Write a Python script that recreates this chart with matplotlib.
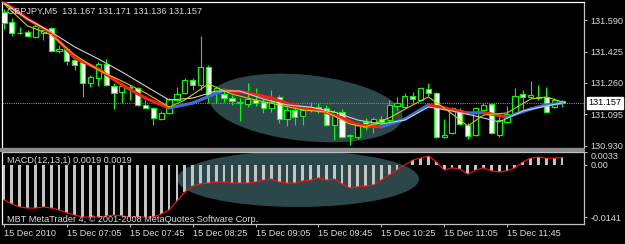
"""
plot.py

MT4-style GBPJPY M5 screenshot: candles + three moving averages on top,
MACD(12,13,1) histogram below, with the two highlight ellipses.
"""

import matplotlib
matplotlib.use("Agg")
import matplotlib.pyplot as plt
import matplotlib.transforms as mtransforms
from matplotlib.collections import LineCollection
from matplotlib.patches import Ellipse, Rectangle


# ── Data ──────────────────────────────────────────────────────────────────────

opens = [
    131.632, 131.580, 131.522, 131.527, 131.501, 131.522, 131.548, 131.428,
    131.438, 131.380, 131.370, 131.260, 131.286, 131.360, 131.244, 131.213,
    131.234, 131.234, 131.145, 131.129, 131.071, 131.103, 131.171, 131.208,
    131.276, 131.250, 131.344, 131.208, 131.202, 131.181, 131.161, 131.150,
    131.171, 131.161, 131.129, 131.187, 131.071, 131.119, 131.087, 131.134,
    131.134, 131.129, 131.040, 131.108, 130.982, 130.977, 131.056, 131.045,
    131.071, 131.066, 131.140, 131.134, 131.192, 131.171, 131.229, 131.208,
    130.977, 130.998, 131.119, 131.040, 130.988, 131.119, 131.150, 130.988,
    131.056, 131.103, 131.202, 131.187, 131.187, 131.187, 131.134, 131.167,
]
highs = [
    131.648, 131.601, 131.553, 131.538, 131.574, 131.553, 131.553, 131.459,
    131.449, 131.391, 131.375, 131.302, 131.370, 131.386, 131.260, 131.260,
    131.250, 131.239, 131.171, 131.134, 131.113, 131.181, 131.239, 131.286,
    131.286, 131.506, 131.354, 131.244, 131.218, 131.197, 131.181, 131.260,
    131.234, 131.176, 131.223, 131.197, 131.134, 131.134, 131.140, 131.161,
    131.155, 131.145, 131.119, 131.124, 130.993, 131.056, 131.077, 131.082,
    131.087, 131.171, 131.187, 131.208, 131.213, 131.239, 131.260, 131.213,
    131.071, 131.134, 131.129, 131.050, 131.134, 131.155, 131.155, 131.103,
    131.140, 131.234, 131.223, 131.270, 131.250, 131.239, 131.181, 131.171,
]
lows = [
    131.543, 131.506, 131.517, 131.501, 131.496, 131.485, 131.422, 131.417,
    131.354, 131.328, 131.187, 131.239, 131.244, 131.244, 131.124, 131.155,
    131.171, 131.140, 131.129, 131.040, 131.066, 131.098, 131.166, 131.202,
    131.223, 131.223, 131.155, 131.155, 131.161, 131.145, 131.061, 131.134,
    131.140, 131.103, 131.108, 131.050, 131.035, 131.040, 131.040, 131.108,
    131.103, 131.035, 130.961, 130.972, 130.935, 130.967, 131.014, 130.998,
    131.045, 131.056, 131.119, 131.129, 131.155, 131.166, 131.192, 130.972,
    130.972, 130.993, 131.040, 130.967, 130.982, 131.108, 130.993, 130.977,
    131.050, 131.098, 131.108, 131.181, 131.171, 131.108, 131.129, 131.136,
]
closes = [
    131.574, 131.522, 131.521, 131.506, 131.559, 131.538, 131.428, 131.438,
    131.375, 131.354, 131.260, 131.291, 131.360, 131.250, 131.208, 131.244,
    131.239, 131.145, 131.129, 131.077, 131.103, 131.176, 131.202, 131.276,
    131.250, 131.344, 131.197, 131.234, 131.181, 131.166, 131.155, 131.176,
    131.155, 131.129, 131.161, 131.071, 131.119, 131.082, 131.119, 131.124,
    131.113, 131.040, 131.108, 130.977, 130.988, 131.040, 131.030, 131.071,
    131.056, 131.145, 131.155, 131.192, 131.176, 131.234, 131.208, 130.977,
    130.988, 131.129, 131.045, 130.982, 131.129, 131.145, 130.998, 131.066,
    131.098, 131.192, 131.187, 131.197, 131.181, 131.108, 131.171, 131.157,
]

# thick colour-changing MA (red falling / blue rising)
ma_thick_idx = [0, 3, 6, 9, 12, 15, 18, 21, 24, 28, 31, 34, 37, 40, 43, 45,
                48, 51, 54, 56, 59, 61, 64, 67, 69, 71]
ma_thick = [131.684, 131.595, 131.522, 131.391, 131.333, 131.250, 131.181,
            131.129, 131.155, 131.223, 131.208, 131.181, 131.140, 131.119,
            131.077, 131.040, 131.030, 131.071, 131.145, 131.129, 131.103,
            131.105, 131.082, 131.124, 131.145, 131.155]

# thin yellow MA
ma_fast_idx = [0, 3, 6, 9, 12, 15, 18, 21, 23, 26, 29, 32, 35, 38, 41, 44,
               46, 49, 52, 54, 56, 59, 61, 64, 67, 69, 71]
ma_fast = [131.674, 131.559, 131.512, 131.407, 131.328, 131.270, 131.208,
           131.134, 131.171, 131.255, 131.202, 131.171, 131.145, 131.119,
           131.108, 131.045, 131.030, 131.077, 131.145, 131.187, 131.129,
           131.035, 131.092, 131.103, 131.176, 131.187, 131.161]

# thin white MA
ma_slow_idx = [0, 3, 6, 9, 12, 15, 18, 21, 24, 27, 30, 33, 36, 39, 42, 45,
               48, 51, 54, 57, 60, 63, 66, 69, 71]
ma_slow = [131.679, 131.595, 131.527, 131.449, 131.386, 131.318, 131.244,
           131.171, 131.181, 131.218, 131.218, 131.176, 131.145, 131.134,
           131.108, 131.066, 131.045, 131.066, 131.134, 131.113, 131.087,
           131.056, 131.113, 131.140, 131.155]

macd = [
    -0.0095, -0.0106, -0.0114, -0.0117, -0.0117, -0.0114, -0.0117, -0.0122,
    -0.0130, -0.0136, -0.0141, -0.0141, -0.0141, -0.0138, -0.0136, -0.0138,
    -0.0141, -0.0141, -0.0141, -0.0141, -0.0133, -0.0122, -0.0098, -0.0074,
    -0.0058, -0.0052, -0.0050, -0.0047, -0.0047, -0.0050, -0.0050, -0.0050,
    -0.0047, -0.0042, -0.0039, -0.0047, -0.0050, -0.0050, -0.0044, -0.0042,
    -0.0036, -0.0042, -0.0039, -0.0052, -0.0063, -0.0060, -0.0058, -0.0055,
    -0.0042, -0.0028, -0.0015, -0.0001, 0.0012, 0.0017, 0.0023, 0.0007,
    -0.0015, -0.0009, -0.0012, -0.0026, -0.0015, -0.0009, -0.0017, -0.0020,
    -0.0017, -0.0009, 0.0007, 0.0017, 0.0020, 0.0017, 0.0017, 0.0019,
]
macd_signal = macd  # SMA(1) of the main line is the line itself

price_ticks = [131.590, 131.425, 131.260, 131.095, 130.930]
last_price = 131.157
macd_ticks = [0.0033, 0.0, -0.0141]
macd_tick_labels = ["0.0033", "0.00", "-0.0141"]

time_tick_idx = [0, 8, 16, 24, 32, 40, 48, 56, 64]
time_labels = ["15 Dec 2010", "15 Dec 07:05", "15 Dec 07:45", "15 Dec 08:25",
               "15 Dec 09:05", "15 Dec 09:45", "15 Dec 10:25", "15 Dec 11:05",
               "15 Dec 11:45"]

header = "GBPJPY,M5  131.167 131.171 131.136 131.157"
macd_header = "MACD(12,13,1) 0.0019 0.0019"
footer = "MBT MetaTrader 4, \u00a9 2001-2008 MetaQuotes Software Corp."


# ── Style ─────────────────────────────────────────────────────────────────────

W, H = 625, 244
TXT = "#dadada"
FRAME = "#c0c0c0"
GREEN = "#00ff00"
TEAL = "#2b4749"
FS = 6.6

plt.rcParams["font.family"] = ["Liberation Sans", "DejaVu Sans"]


def px_axes(fig, left, top, right, bottom):
    return fig.add_axes([left / W, 1 - bottom / H, (right - left) / W, (bottom - top) / H])


def style_axes(ax):
    ax.set_facecolor("black")
    for side in ("right", "bottom", "top"):
        ax.spines[side].set_color(FRAME)
    ax.spines["left"].set_color("white")
    for sp in ax.spines.values():
        sp.set_linewidth(0.9)
    ax.set_xlim(-0.254, 73.79)
    ax.yaxis.tick_right()
    ax.tick_params(axis="y", direction="out", length=2.2, width=0.7, color=FRAME,
                   labelcolor=TXT, labelsize=FS, pad=2.5)


fig = plt.figure(figsize=(W / 100, H / 100), dpi=100, facecolor="black")
pix = mtransforms.Affine2D().scale(1, -1).translate(0, H)  # image px -> display

# ── Main price panel ──────────────────────────────────────────────────────────

ax = px_axes(fig, 2, 2, 584, 148)
style_axes(ax)
ax.spines["top"].set_color("white")
ax.set_ylim(130.9195, 131.6843)
ax.set_xticks([])

ell = Ellipse((306, 108), 194, 66, angle=6, transform=pix, facecolor=TEAL,
              edgecolor="none", zorder=1)
ax.add_patch(ell)

ax.axhline(last_price, color="#8a8a8a", lw=0.8, ls=(0, (1, 1)), zorder=2)

xs = list(range(len(opens)))
ax.vlines(xs, lows, highs, color=GREEN, lw=0.8, zorder=3)
body_lo = [min(o, c) for o, c in zip(opens, closes)]
body_h = [abs(c - o) for o, c in zip(opens, closes)]
body_fc = ["black" if c > o else "white" for o, c in zip(opens, closes)]
ax.bar(xs, body_h, bottom=body_lo, width=0.66, color=body_fc, edgecolor=GREEN,
       linewidth=0.8, zorder=4)

# thick MA, coloured per segment by direction
segs, cols = [], []
for k in range(len(ma_thick) - 1):
    segs.append([(ma_thick_idx[k], ma_thick[k]), (ma_thick_idx[k + 1], ma_thick[k + 1])])
    cols.append("#3d6cd2" if ma_thick[k + 1] > ma_thick[k] else "#ff1c1c")
ax.add_collection(LineCollection(segs, colors=cols, linewidths=2.3,
                                 capstyle="round", zorder=5))
ax.plot(ma_slow_idx, ma_slow, color="#cfcfcf", lw=0.8, zorder=6)
ax.plot(ma_fast_idx, ma_fast, color="#d2c800", lw=0.8, zorder=7)

ax.set_yticks(price_ticks)
ax.set_yticklabels([f"{p:.3f}" for p in price_ticks])
ax.text(1 + 4 / 582, last_price, f"{last_price:.3f}",
        transform=mtransforms.blended_transform_factory(ax.transAxes, ax.transData),
        ha="left", va="center", fontsize=FS, color="black", clip_on=False,
        bbox=dict(boxstyle="square,pad=0.15", fc="white", ec="white"))

# ── MACD panel ────────────────────────────────────────────────────────────────

ax2 = px_axes(fig, 2, 152, 584, 224)
style_axes(ax2)
ax2.set_ylim(-0.01598, 0.00336)

ell2 = Ellipse((298, 179), 242, 56, angle=0, transform=pix, facecolor=TEAL,
               edgecolor="none", zorder=1)
ax2.add_patch(ell2)

ax2.bar(xs, macd, width=0.36, color="#c4c4c4", zorder=3)
ax2.plot(xs, macd_signal, color="#ff1010", lw=0.8, zorder=4)

ax2.set_yticks(macd_ticks)
ax2.set_yticklabels(macd_tick_labels)
ax2.get_yticklabels()[0].set_va("top")

ax2.set_xticks(time_tick_idx)
ax2.set_xticklabels(time_labels)
ax2.tick_params(axis="x", direction="out", length=2.5, width=0.7, color=FRAME,
                labelcolor=TXT, labelsize=FS, pad=1.2)
for lab in ax2.get_xticklabels():
    lab.set_ha("left")

# grey separator band between the panels
fig.patches.append(Rectangle((0, 148), 585, 3.5, transform=pix, facecolor="#8c8c8c",
                             edgecolor="none", figure=fig))

# ── Overlay texts ─────────────────────────────────────────────────────────────

fig.text(7 / W, 1 - 11 / H, header, color=TXT, fontsize=FS, va="center", ha="left")
fig.text(7 / W, 1 - 160.5 / H, macd_header, color=TXT, fontsize=FS, va="center", ha="left")
fig.text(7 / W, 1 - 219 / H, footer, color=TXT, fontsize=FS, va="center", ha="left")

fig.savefig("out.png", dpi=100, facecolor="black")
